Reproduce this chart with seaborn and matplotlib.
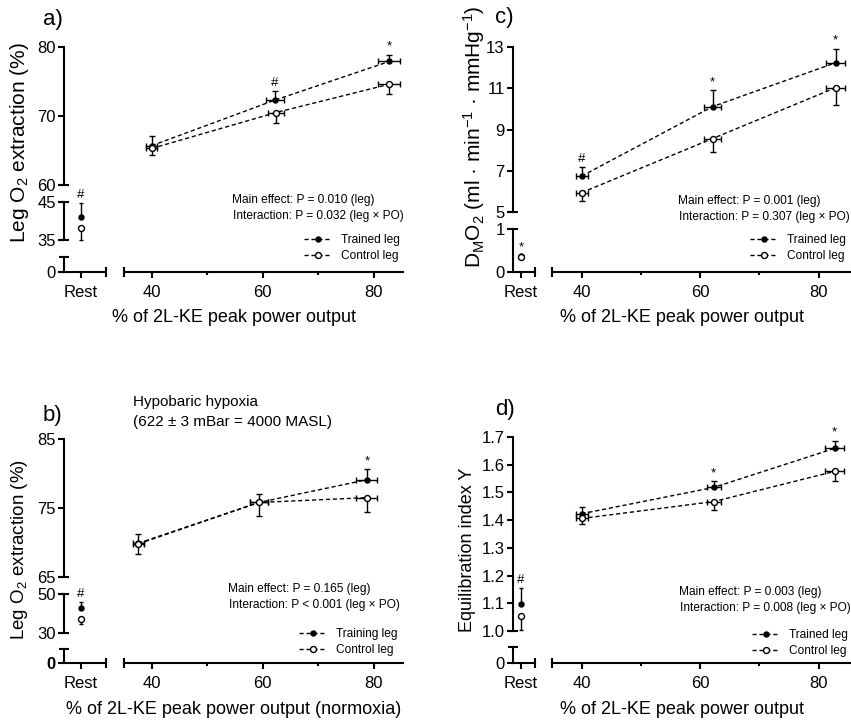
import numpy as np
import matplotlib.pyplot as plt
import seaborn as sns

W, H = 851, 721

# ---------------- data ----------------
# a) leg O2 extraction (%), normoxia
a_x_tr = [40.0, 62.2, 82.8]
a_xerr_tr = [1.0, 1.6, 2.0]
a_y_tr = [65.7, 72.3, 77.9]
a_yerr_tr = [1.4, 1.3, 1.0]
a_x_co = [40.0, 62.4, 82.8]
a_xerr_co = [1.0, 1.5, 2.0]
a_y_co = [65.3, 70.5, 74.6]
a_yerr_co = [1.0, 1.5, 1.4]
a_marks = ['', '#', '*']
a_rest = [41.0, 38.2]
a_rest_err = [3.8, 3.2]
a_rest_mark = '#'

# b) leg O2 extraction (%), hypobaric hypoxia
b_x_tr = [37.6, 59.3, 78.8]
b_xerr_tr = [1.0, 1.6, 1.9]
b_y_tr = [69.9, 75.8, 79.1]
b_yerr_tr = [1.4, 1.3, 1.5]
b_x_co = [37.6, 59.3, 78.8]
b_xerr_co = [1.0, 1.6, 1.9]
b_y_co = [69.8, 75.8, 76.5]
b_yerr_co = [1.4, 1.9, 2.1]
b_marks = ['', '', '*']
b_rest = [42.9, 37.3]
b_rest_err = [2.8, 2.8]
b_rest_mark = '#'

# c) DMO2
c_x_tr = [40.0, 62.1, 82.9]
c_xerr_tr = [1.0, 1.4, 1.6]
c_y_tr = [6.74, 10.11, 12.24]
c_yerr_tr = [0.42, 0.79, 0.68]
c_x_co = [40.0, 62.1, 82.9]
c_xerr_co = [1.0, 1.4, 1.6]
c_y_co = [5.94, 8.56, 11.03]
c_yerr_co = [0.39, 0.64, 0.85]
c_marks = ['#', '*', '*']
c_rest = [0.37, 0.34]
c_rest_err = [0.02, 0.02]
c_rest_mark = '*'

# d) equilibration index Y
d_x_tr = [40.0, 62.3, 82.7]
d_xerr_tr = [1.0, 1.2, 1.6]
d_y_tr = [1.423, 1.518, 1.659]
d_yerr_tr = [0.024, 0.022, 0.027]
d_x_co = [40.0, 62.3, 82.7]
d_xerr_co = [1.0, 1.2, 1.6]
d_y_co = [1.406, 1.467, 1.576]
d_yerr_co = [0.021, 0.032, 0.033]
d_marks = ['', '*', '*']
d_rest = [1.099, 1.055]
d_rest_err = [0.056, 0.052]
d_rest_mark = '#'

x_ticks = [40, 60, 80]
x_minor = [50, 70]
x_lim = (35, 85.3)

sns.set_theme(style='ticks')
plt.rcParams['font.family'] = ['Liberation Sans', 'DejaVu Sans']
plt.rcParams['mathtext.fontset'] = 'custom'
plt.rcParams['mathtext.rm'] = 'Liberation Sans'
plt.rcParams['mathtext.it'] = 'Liberation Sans:italic'
plt.rcParams['axes.linewidth'] = 1.5
for k in ['text.color', 'axes.labelcolor', 'xtick.color', 'ytick.color', 'axes.edgecolor']:
    plt.rcParams[k] = 'black'

fig = plt.figure(figsize=(W / 100, H / 100), dpi=100)


def px_axes(left, top, right, bottom):
    return fig.add_axes([left / W, 1 - bottom / H, (right - left) / W, (bottom - top) / H])


def fig_text(x, y, s, **kw):
    fig.text(x / W, 1 - y / H, s, **kw)


def plot_series(ax, x, y, xerr, yerr, filled, label, up, ms, cap=2.2):
    n = len(y)
    yerr2 = [np.zeros(n), yerr] if up else [yerr, np.zeros(n)]
    ax.errorbar(x, y, xerr=xerr, yerr=yerr2, fmt='none', ecolor='black',
                elinewidth=1, capsize=cap, capthick=1, zorder=2, clip_on=False)
    sns.lineplot(x=x, y=y, ax=ax, color='black', lw=1,
                 linestyle=(0, (3, 2)) if label else 'none', marker='o', markersize=ms,
                 markerfacecolor='black' if filled else 'white',
                 markeredgecolor='black', markeredgewidth=1,
                 label=label, zorder=3, clip_on=False, errorbar=None)


def tick_text(v, fmt):
    return '0' if v == 0 else fmt.format(v)


def draw_panel(p):
    segs = p['segs']
    yx, rt, rr, ml, mr = p['yx'], p['rest_tick'], p['rest_right'], p['main_left'], p['main_right']
    seg_axes = []
    for i, (top, bot, ylo, yhi, ticks, caps) in enumerate(segs):
        ax = px_axes(yx, top, rr, bot)
        ax.set_xlim(yx - rt, rr - rt)
        ax.set_ylim(ylo, yhi)
        ax.patch.set_alpha(0)
        ax.spines['top'].set_visible(False)
        ax.spines['right'].set_visible(False)
        last = i == len(segs) - 1
        ax.spines['bottom'].set_visible(last)
        ax.set_yticks(ticks, labels=[tick_text(t, p['fmt']) for t in ticks])
        ax.set_yticks(caps, minor=True)
        ax.yaxis.remove_overlapping_locs = False
        ax.tick_params(axis='y', which='major', direction='out', length=4.5, width=1.5,
                       labelsize=12, pad=1.5)
        ax.tick_params(axis='y', which='minor', direction='inout', length=7, width=1.5)
        if last:
            ax.set_xticks([0], labels=['Rest'])
            ax.set_xticks([rr - rt], minor=True)
            ax.tick_params(axis='x', which='major', direction='out', length=4.5, width=1.5,
                           labelsize=12, pad=5)
            ax.tick_params(axis='x', which='minor', direction='inout', length=7, width=1.5)
            if p.get('bold0'):
                ax.get_yticklabels()[0].set_fontweight('bold')
        else:
            ax.set_xticks([])
        seg_axes.append(ax)

    # main (exercise) region, lives in the top segment
    axm = px_axes(ml, segs[0][0], mr, segs[0][1])
    axm.set_xlim(*x_lim)
    axm.set_ylim(segs[0][2], segs[0][3])
    axm.axis('off')
    plot_series(axm, p['x_tr'], p['y_tr'], p['xerr_tr'], p['yerr_tr'], True, p['lab_tr'], True, 3.6)
    plot_series(axm, p['x_co'], p['y_co'], p['xerr_co'], p['yerr_co'], False, 'Control leg', False, 4.3)
    for xi, yi, ei, m in zip(p['x_tr'], p['y_tr'], p['yerr_tr'], p['marks']):
        if m:
            axm.annotate(m, (xi, yi + ei), xytext=(0, 1.5), textcoords='offset points',
                         ha='center', va='bottom', fontsize=9.5, annotation_clip=False)
    handles, labels = axm.get_legend_handles_labels()
    if axm.get_legend():
        axm.get_legend().remove()

    # main x axis
    axx = px_axes(ml, segs[-1][0], mr, segs[-1][1])
    axx.set_xlim(*x_lim)
    axx.patch.set_alpha(0)
    for s in ['left', 'top', 'right']:
        axx.spines[s].set_visible(False)
    axx.set_yticks([])
    axx.set_xticks(x_ticks, labels=[str(t) for t in x_ticks])
    axx.set_xticks(x_minor, minor=True)
    axx.tick_params(axis='x', which='major', direction='out', length=4.5, width=1.5,
                    labelsize=12, pad=5)
    axx.tick_params(axis='x', which='minor', direction='out', length=2.5, width=1.5)
    sec = axx.secondary_xaxis('bottom')
    sec.set_xticks([x_lim[0]], labels=[''])
    sec.spines['bottom'].set_visible(False)
    sec.tick_params(direction='inout', length=7, width=1.5)

    # rest values
    axr = seg_axes[p['rest_seg']]
    plot_series(axr, [0], [p['rest'][0]], None, [p['rest_err'][0]], True, None, True, 3.6, cap=1.5)
    plot_series(axr, [0], [p['rest'][1]], None, [p['rest_err'][1]], False, None, False, 4.3, cap=1.5)
    if axr.get_legend():
        axr.get_legend().remove()
    axr.annotate(p['rest_mark'], (0, p['rest'][0] + p['rest_err'][0]), xytext=(0, 1.5),
                 textcoords='offset points', ha='center', va='bottom', fontsize=9.5,
                 annotation_clip=False)

    # labels and text
    fig_text(p['label_xy'][0], p['label_xy'][1], p['label'], fontsize=16, ha='left', va='center')
    fig_text(p['ylab_xy'][0], p['ylab_xy'][1], p['ylab'], fontsize=p['ylab_size'], rotation=90,
             ha='center', va='center')
    fig_text((yx + mr) / 2, p['xlab_y'], p['xlab'], fontsize=13, ha='center', va='center')
    tx, ty = p['stat_xy']
    fig_text(tx, ty, p['stat1'], fontsize=8.6, ha='left', va='center')
    fig_text(tx + 1, ty + 16, p['stat2'], fontsize=8.6, ha='left', va='center')
    lx, ly = p['leg_xy']
    fig.legend(handles, labels, loc='upper left', bbox_to_anchor=(lx / W, 1 - ly / H),
               frameon=False, fontsize=8.6, handlelength=2.3, handletextpad=0.8,
               labelspacing=0.35, borderpad=0, borderaxespad=0)


xlab = '% of 2L-KE peak power output'
o2lab = r'Leg O$_{\mathregular{2}}$ extraction (%)'

draw_panel(dict(
    segs=[(47, 185, 60, 80, [60, 70, 80], [60]),
          (202, 240, 35, 45, [35, 45], [35, 45]),
          (257, 272, 0, 1, [0], [1])],
    fmt='{:d}', yx=64, rest_tick=81, rest_right=106, main_left=124, main_right=403,
    x_tr=a_x_tr, y_tr=a_y_tr, xerr_tr=a_xerr_tr, yerr_tr=a_yerr_tr,
    x_co=a_x_co, y_co=a_y_co, xerr_co=a_xerr_co, yerr_co=a_yerr_co,
    marks=a_marks, rest=a_rest, rest_err=a_rest_err, rest_mark=a_rest_mark, rest_seg=1,
    lab_tr='Trained leg', label='a)', label_xy=(43, 19), ylab=o2lab, ylab_size=15,
    ylab_xy=(20, 143), xlab=xlab, xlab_y=318, stat1='Main effect: P = 0.010 (leg)',
    stat2='Interaction: P = 0.032 (leg × PO)', stat_xy=(232, 200), leg_xy=(304, 234)))

draw_panel(dict(
    segs=[(439, 577, 65, 85, [65, 75, 85], [65]),
          (594, 633, 30, 50, [30, 50], [30, 50]),
          (649, 663, 0, 1, [0], [1])],
    fmt='{:d}', yx=64, rest_tick=81, rest_right=106, main_left=124, main_right=403,
    x_tr=b_x_tr, y_tr=b_y_tr, xerr_tr=b_xerr_tr, yerr_tr=b_yerr_tr,
    x_co=b_x_co, y_co=b_y_co, xerr_co=b_xerr_co, yerr_co=b_yerr_co,
    marks=b_marks, rest=b_rest, rest_err=b_rest_err, rest_mark=b_rest_mark, rest_seg=1,
    lab_tr='Training leg', label='b)', label_xy=(43, 415), ylab=o2lab, ylab_size=13.5,
    ylab_xy=(20, 550), xlab=xlab + ' (normoxia)', xlab_y=710,
    stat1='Main effect: P = 0.165 (leg)', stat2='Interaction: P < 0.001 (leg × PO)',
    stat_xy=(228, 589), leg_xy=(299, 628), bold0=True))

draw_panel(dict(
    segs=[(47, 212, 5, 13, [5, 7, 9, 11, 13], [5]),
          (229, 272, 0, 1, [0, 1], [1])],
    fmt='{:d}', yx=513, rest_tick=521, rest_right=535, main_left=552, main_right=850,
    x_tr=c_x_tr, y_tr=c_y_tr, xerr_tr=c_xerr_tr, yerr_tr=c_yerr_tr,
    x_co=c_x_co, y_co=c_y_co, xerr_co=c_xerr_co, yerr_co=c_yerr_co,
    marks=c_marks, rest=c_rest, rest_err=c_rest_err, rest_mark=c_rest_mark, rest_seg=1,
    lab_tr='Trained leg', label='c)', label_xy=(495, 17),
    ylab=r'D$_{\mathregular{M}}$O$_{\mathregular{2}}$ (ml · min$^{\mathregular{-1}}$ · mmHg$^{\mathregular{-1}}$)',
    ylab_size=15, ylab_xy=(474, 137), xlab=xlab, xlab_y=318,
    stat1='Main effect: P = 0.001 (leg)', stat2='Interaction: P = 0.307 (leg × PO)',
    stat_xy=(678, 201), leg_xy=(750, 234)))

draw_panel(dict(
    segs=[(437, 631, 1.0, 1.7, [1.0, 1.1, 1.2, 1.3, 1.4, 1.5, 1.6, 1.7], [1.0]),
          (647, 663, 0, 1, [0], [1])],
    fmt='{:.1f}', yx=513, rest_tick=521, rest_right=535, main_left=552, main_right=850,
    x_tr=d_x_tr, y_tr=d_y_tr, xerr_tr=d_xerr_tr, yerr_tr=d_yerr_tr,
    x_co=d_x_co, y_co=d_y_co, xerr_co=d_xerr_co, yerr_co=d_yerr_co,
    marks=d_marks, rest=d_rest, rest_err=d_rest_err, rest_mark=d_rest_mark, rest_seg=0,
    lab_tr='Trained leg', label='d)', label_xy=(495, 409), ylab='Equilibration index Y',
    ylab_size=13, ylab_xy=(468, 550), xlab=xlab, xlab_y=710,
    stat1='Main effect: P = 0.003 (leg)', stat2='Interaction: P = 0.008 (leg × PO)',
    stat_xy=(679, 592), leg_xy=(752, 629)))

# hypoxia note for panel b
fig_text(133, 402, 'Hypobaric hypoxia', fontsize=11, ha='left', va='center')
fig_text(133, 422, '(622 ± 3 mBar = 4000 MASL)', fontsize=11, ha='left', va='center')

fig.savefig('out.png', dpi=100)
